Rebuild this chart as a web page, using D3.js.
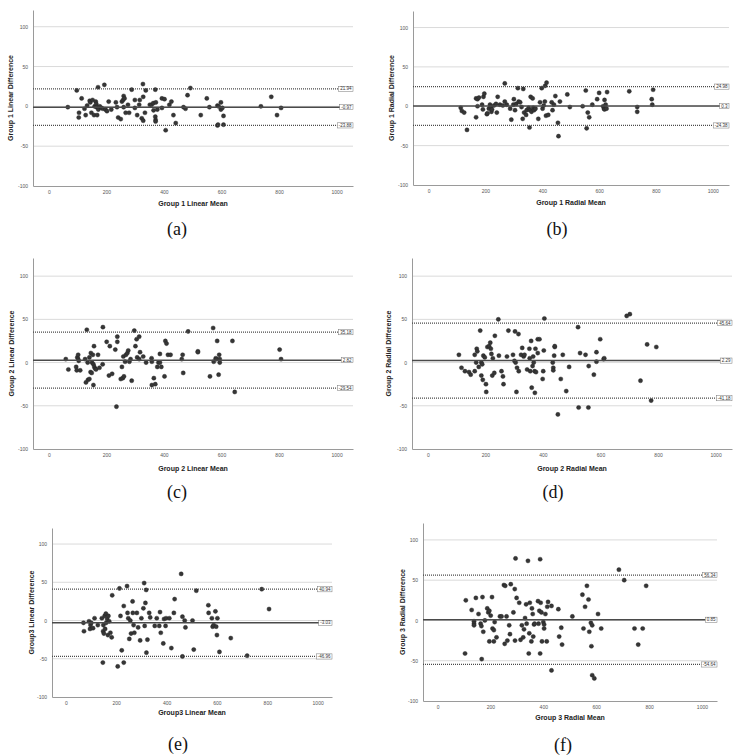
<!DOCTYPE html>
<html lang="en">
<head>
<meta charset="utf-8">
<title>Bland-Altman plots</title>
<script src="https://cdn.jsdelivr.net/npm/d3@7"></script>
<style>
  body { margin: 0; background: #fff; }
  .tick text { font: 5px "Liberation Sans", Arial, sans-serif; fill: #555; }
  .domain { stroke: #9a9a9a; }
  .axis-title { font: bold 7px "Liberation Sans", Arial, sans-serif; fill: #222; text-anchor: middle; }
  .caption { font: 18px "Liberation Serif", "Times New Roman", serif; fill: #111; text-anchor: middle; }
  .grid { stroke: #dadada; stroke-width: 1; }
  .ref-label { font: 4.5px "Liberation Sans", Arial, sans-serif; fill: #333; text-anchor: end; }
</style>
</head>
<body>
<svg id="chart" width="737" height="756"></svg>
<script>
// axis ticks shared by all six panels
var xTicks = [0, 200, 400, 600, 800, 1000];
var yTicks = [-100, -50, 0, 50, 100];

var captions = ["(a)", "(b)", "(c)", "(d)", "(e)", "(f)"];
var xTitles = ["Group 1 Linear Mean", "Group 1 Radial Mean", "Group 2 Linear Mean",
               "Group 2 Radial Mean", "Group3 Linear Mean", "Group 3 Radial Mean"];
var yTitles = ["Group 1 Linear Difference", "Group 1 Radial Difference", "Group 2 Linear Difference",
               "Group 2 Radial Difference", "Group3 Linear Difference", "Group 3 Radial Difference"];

// upper limit, mean difference, lower limit
var g1LinearLines = ["21.94", "-0.97", "-23.88"];
var g1RadialLines = ["24.98", "0.3", "-24.38"];
var g2LinearLines = ["35.18", "2.82", "-29.54"];
var g2RadialLines = ["45.64", "2.29", "-41.18"];
var g3LinearLines = ["40.94", "-3.03", "-46.96"];
var g3RadialLines = ["56.34", "0.85", "-54.64"];

// [mean, difference] per subject
var g1Linear = [[66,-1],[97,20],[105,-8],[104,-14],[114,10],[124,-3],[128,-11],[133,1],[142,7],[144,5],
  [148,-8],[152,8],[157,-11],[159,0],[163,6],[165,3],[166,-1],[168,-11],[171,24],[172,-4],[177,0],[183,-2],
  [188,-3],[193,27],[197,-4],[202,-6],[208,6],[217,-4],[233,5],[237,-1],[241,-14],[250,-16],[254,6],[258,8],
  [260,13],[260,-1],[263,10],[267,-8],[275,2],[279,-8],[288,21],[299,-2],[299,8],[307,-11],[314,2],[316,8],
  [323,-15],[327,28],[328,12],[328,-18],[334,-8],[337,20],[351,2],[357,2],[363,4],[364,-5],[370,21],[370,-13],
  [371,-17],[371,-19],[372,5],[377,-4],[393,-2],[393,10],[402,9],[406,-30],[419,2],[426,6],[433,-11],[441,-21],
  [468,-1],[475,-3],[482,14],[492,23],[528,-11],[549,10],[558,-1],[586,1],[590,0],[586,-24],[588,-23],[598,5],
  [598,-4],[603,-2],[607,-12],[607,-23],[737,0],[773,12],[793,-11],[807,-2]];

var g1Radial = [[113,-2],[117,-6],[125,-8],[135,-30],[167,10],[167,-14],[172,9],[177,11],[172,0],[188,2],
  [191,-4],[193,12],[196,16],[205,-10],[207,-9],[212,-3],[216,2],[219,-1],[221,-7],[223,-4],[230,1],[237,3],
  [240,-8],[243,12],[251,2],[261,1],[268,29],[268,6],[275,2],[287,-3],[291,-17],[298,2],[300,9],[304,-5],
  [308,3],[314,23],[317,6],[322,5],[327,-1],[331,-16],[333,22],[336,-8],[343,-11],[345,-5],[352,-2],[355,-27],
  [357,-5],[359,12],[362,-7],[366,10],[368,-2],[371,-5],[376,-3],[386,-16],[392,5],[398,23],[401,-3],[405,1],
  [409,6],[410,26],[415,30],[413,-12],[421,-11],[433,5],[436,-5],[441,2],[446,13],[455,-21],[457,-38],[462,6],
  [488,15],[497,-1],[542,0],[553,20],[556,-28],[560,-8],[565,-14],[576,2],[593,9],[600,17],[614,0],[617,-3],
  [619,-4],[619,8],[623,2],[626,-3],[628,18],[706,19],[734,-1],[734,-7],[785,9],[787,2],[790,21]];

var g2Linear = [[59,4],[68,-8],[95,-5],[97,-9],[99,6],[102,9],[102,4],[104,2],[109,-9],[126,4],[129,-23],
  [132,38],[135,0],[136,-20],[141,-19],[141,6],[145,-11],[146,11],[149,-12],[150,0],[153,9],[155,-2],[155,-26],
  [157,19],[158,-5],[161,-7],[164,-8],[171,9],[176,-6],[187,-2],[188,41],[201,24],[209,-15],[212,19],[220,-13],
  [231,15],[235,-51],[238,30],[238,24],[250,-19],[254,-5],[257,-18],[259,7],[261,-16],[265,1],[268,9],[273,11],
  [276,14],[280,1],[284,4],[288,-21],[297,37],[301,19],[305,27],[307,6],[314,30],[317,12],[314,4],[328,7],
  [338,0],[357,5],[358,1],[358,-26],[365,-18],[370,-25],[377,-5],[381,0],[386,10],[386,0],[391,-5],[402,-16],
  [405,25],[409,22],[414,9],[423,9],[462,4],[465,9],[467,-12],[484,36],[518,13],[518,12],[560,-16],[571,40],
  [573,1],[580,5],[583,4],[585,25],[590,-14],[592,9],[594,4],[594,0],[638,25],[646,-34],[802,15],[807,4]];

var g2Radial = [[108,9],[117,-6],[129,-10],[143,-11],[149,-14],[163,-10],[163,9],[168,0],[170,16],[172,13],
  [177,-5],[182,37],[186,-15],[186,0],[189,-2],[191,-20],[193,8],[198,6],[202,-25],[203,-34],[207,18],[213,19],
  [217,23],[219,16],[221,10],[224,-15],[226,5],[231,-12],[233,31],[245,50],[247,8],[256,-10],[261,-16],[263,-25],
  [275,7],[280,37],[296,9],[301,2],[303,36],[305,0],[308,-34],[310,-6],[315,33],[316,-10],[324,9],[328,17],
  [333,7],[336,9],[345,-8],[353,16],[354,5],[356,-10],[359,25],[361,-29],[364,-4],[366,7],[368,0],[371,-10],
  [372,-35],[374,16],[376,-11],[382,11],[382,27],[388,27],[399,-19],[401,-10],[403,14],[405,51],[434,0],
  [436,-6],[436,-9],[439,8],[441,18],[441,19],[452,-60],[462,-19],[469,9],[481,-33],[491,-5],[522,41],
  [524,-52],[529,11],[548,9],[558,-52],[559,-4],[577,-14],[586,1],[586,12],[599,27],[611,4],[613,5],[691,54],
  [702,56],[739,-21],[762,21],[776,-44],[794,18]];

var g3Linear = [[70,-3],[72,-14],[92,-1],[96,-11],[98,-6],[101,-3],[108,-10],[114,3],[127,-6],[143,3],
  [147,-55],[148,-14],[149,-6],[151,-17],[154,6],[156,-11],[159,9],[160,-3],[164,2],[167,-19],[169,6],[172,-1],
  [177,-16],[182,-22],[184,33],[206,-60],[213,42],[217,6],[222,-39],[230,19],[230,-55],[243,45],[245,10],
  [248,3],[252,-24],[256,0],[259,-17],[265,25],[266,10],[269,-6],[272,-16],[282,10],[287,-9],[295,-26],[300,3],
  [308,16],[311,49],[313,-7],[316,23],[319,40],[320,-42],[324,-25],[331,10],[335,4],[353,-7],[361,3],[371,-7],
  [374,11],[377,-16],[387,-30],[390,2],[396,-7],[398,3],[411,3],[419,-36],[429,10],[432,28],[458,61],[463,5],
  [463,-47],[472,0],[475,-9],[503,0],[508,-38],[518,39],[566,20],[567,10],[580,3],[583,-8],[587,-6],[594,12],
  [597,-8],[600,-19],[602,3],[610,-41],[655,-23],[720,-46],[778,41],[807,15]];

var g3Radial = [[104,-41],[107,25],[129,13],[138,-1],[138,-4],[138,-6],[145,28],[155,8],[163,-4],[166,-7],
  [167,-48],[170,29],[173,-14],[179,0],[188,15],[192,10],[196,-26],[196,12],[201,6],[206,29],[208,-10],
  [213,-12],[213,-26],[216,-2],[223,-21],[236,5],[242,5],[251,44],[254,-29],[256,43],[261,5],[264,-25],
  [271,-6],[274,-17],[277,45],[287,10],[292,39],[293,-25],[299,28],[295,77],[309,22],[314,-24],[319,-6],
  [324,-21],[327,-11],[331,3],[335,20],[337,-4],[342,74],[345,-41],[347,-16],[349,22],[355,-26],[357,15],
  [360,8],[362,-20],[365,-5],[367,-4],[380,24],[382,-4],[385,12],[388,76],[388,-41],[390,22],[393,10],
  [395,-26],[400,-2],[403,-5],[403,-10],[408,8],[413,-26],[415,17],[418,23],[431,18],[431,-62],[457,14],
  [460,-20],[468,-9],[471,-30],[510,5],[548,32],[552,-10],[558,17],[565,43],[571,26],[574,-14],[580,-3],
  [582,-32],[585,-6],[585,-68],[593,-72],[607,8],[619,-10],[686,63],[706,50],[745,-10],[759,-30],[776,-10],
  [789,43]];

var pointSets = [g1Linear, g1Radial, g2Linear, g2Radial, g3Linear, g3Radial];
var lineSets = [g1LinearLines, g1RadialLines, g2LinearLines, g2RadialLines, g3LinearLines, g3RadialLines];

// where each panel sits on the page
var layout = [
  {left: 33,  right: 353, top: 10,  bottom: 186, yt: 10,  xt: 203, cx: 177, cy: 235},
  {left: 413, right: 729, top: 11,  bottom: 185, yt: 391, xt: 202, cx: 557, cy: 235},
  {left: 33,  right: 353, top: 258, bottom: 449, yt: 11,  xt: 468, cx: 177, cy: 498},
  {left: 412, right: 732, top: 258, bottom: 449, yt: 388, xt: 468, cx: 553, cy: 498},
  {left: 52,  right: 332, top: 528, bottom: 697, yt: 31,  xt: 712, cx: 178, cy: 750},
  {left: 423, right: 717, top: 523, bottom: 701, yt: 402, xt: 717, cx: 563, cy: 751}
];

var plain = function(d) { return String(d); };
var svg = d3.select("#chart");

layout.forEach(function(p, i) {
  var x = d3.scaleLinear().domain([-55, 1057]).range([p.left, p.right]);
  var y = d3.scaleLinear().domain([-100, 121]).range([p.bottom, p.top]);
  var g = svg.append("g");

  // light horizontal grid
  g.selectAll(".grid")
    .data(yTicks.filter(function(d) { return d > -100; }))
    .enter().append("line")
      .attr("class", "grid")
      .attr("x1", p.left).attr("x2", p.right)
      .attr("y1", function(d) { return y(d); })
      .attr("y2", function(d) { return y(d); });

  g.append("g")
      .attr("transform", "translate(" + p.left + ",0)")
      .call(d3.axisLeft(y).tickValues(yTicks).tickFormat(plain).tickSize(0).tickPadding(5));

  g.append("g")
      .attr("transform", "translate(0," + p.bottom + ")")
      .call(d3.axisBottom(x).tickValues(xTicks).tickFormat(plain).tickSize(0).tickPadding(4));

  // points
  g.selectAll("circle")
    .data(pointSets[i])
    .enter().append("circle")
      .attr("cx", function(d) { return x(d[0]); })
      .attr("cy", function(d) { return y(d[1]); })
      .attr("r", 2.1)
      .style("fill", "#363636")
      .style("stroke", "#222")
      .style("stroke-width", 0.4);

  // limits of agreement + mean difference
  lineSets[i].forEach(function(v, k) {
    var yy = y(+v);
    g.append("line")
      .attr("x1", p.left).attr("x2", p.right)
      .attr("y1", yy).attr("y2", yy)
      .style("stroke", "#4a4a4a")
      .style("stroke-width", k == 1 ? 1.5 : 1.2)
      .style("stroke-dasharray", k == 1 ? null : "1,1");

    var txt = g.append("text")
      .attr("class", "ref-label")
      .attr("x", p.right - 1.5)
      .attr("y", yy + 1.6)
      .text(v);
    var w = txt.node().getComputedTextLength();
    g.insert("rect", function() { return txt.node(); })
      .attr("x", p.right - w - 3).attr("y", yy - 2.6)
      .attr("width", w + 3).attr("height", 5.2)
      .style("fill", "#fff")
      .style("stroke", "#777")
      .style("stroke-width", 0.5);
  });

  g.append("text")
    .attr("class", "axis-title")
    .attr("x", (p.left + p.right) / 2)
    .attr("y", p.xt + 2.5)
    .text(xTitles[i]);

  g.append("text")
    .attr("class", "axis-title")
    .attr("transform", "translate(" + (p.yt + 2.5) + "," + ((p.top + p.bottom) / 2) + ") rotate(-90)")
    .text(yTitles[i]);

  g.append("text")
    .attr("class", "caption")
    .attr("x", p.cx)
    .attr("y", p.cy)
    .text(captions[i]);
});
</script>
</body>
</html>
